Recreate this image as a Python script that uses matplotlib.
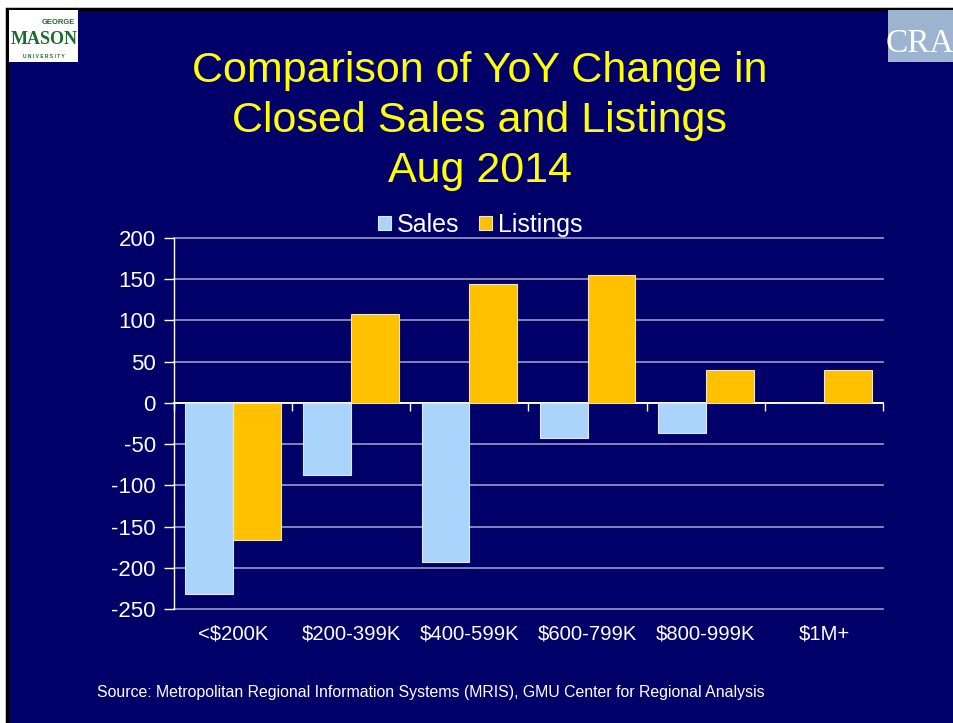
"""Comparison of YoY change in closed sales and listings, Aug 2014."""

import numpy as np
import matplotlib

matplotlib.use("Agg")
import matplotlib.pyplot as plt
from matplotlib.patches import Rectangle

categories = ["<$200K", "$200-399K", "$400-599K", "$600-799K", "$800-999K", "$1M+"]
sales = [-232, -87, -193, -42, -36, 0]
listings = [-166, 108, 144, 155, 40, 40]
y_ticks = [200, 150, 100, 50, 0, -50, -100, -150, -200, -250]

NAVY = "#000068"
SALES_COLOR = "#AAD4FC"
LISTINGS_COLOR = "#FFC000"
GRID_COLOR = "#9a9ac8"
FONT = ["Liberation Sans", "DejaVu Sans"]

plt.rcParams["font.family"] = FONT

W, H = 954, 723
fig = plt.figure(figsize=(W / 100, H / 100), dpi=100, facecolor="white")

# slide background with black border on top and left
slide = Rectangle((7 / W, -0.01), 1.0, 1 - 9 / H + 0.01, transform=fig.transFigure,
                  facecolor=NAVY, edgecolor="black", linewidth=2.5, zorder=-10)
fig.patches.append(slide)

# logo placeholders
fig.patches.append(Rectangle((9 / W, 1 - 62 / H), 69 / W, 52 / H, transform=fig.transFigure,
                             facecolor="white", edgecolor="none", zorder=-5))
fig.text(75 / W, 1 - 22 / H, "GEORGE", color="#1a6b2e", fontsize=5.5, fontweight="bold",
         ha="right", va="center")
fig.text(44 / W, 1 - 40 / H, "MASON", color="#1a6b2e", fontsize=13, fontweight="bold",
         ha="center", va="center", family=["Liberation Serif", "DejaVu Serif"])
fig.text(44 / W, 1 - 56 / H, "U N I V E R S I T Y", color="#1a6b2e", fontsize=3.5,
         fontweight="bold", ha="center", va="center")
fig.patches.append(Rectangle((888 / W, 1 - 62 / H), 70 / W, 52 / H, transform=fig.transFigure,
                             facecolor="#9db4d0", edgecolor="none", zorder=-5))
fig.text(886 / W, 1 - 44 / H, "CRA", color="white", fontsize=24, ha="left", va="center",
         family=["Liberation Serif", "DejaVu Serif"])

# title
for i, line in enumerate(["Comparison of YoY Change in", "Closed Sales and Listings", "Aug 2014"]):
    fig.text(0.503, 1 - (71 + 50 * i) / H, line, color="#FFFF00", fontsize=31,
             ha="center", va="center")

ax = fig.add_axes([174 / W, 1 - 609 / H, (883 - 174) / W, (609 - 238) / H])
ax.set_facecolor("none")

x = np.arange(len(categories))
width = 0.405
ax.bar(x - width / 2, sales, width, color=SALES_COLOR, edgecolor="#dfe8f7",
       linewidth=0.8, label="Sales", zorder=3)
ax.bar(x + width / 2, listings, width, color=LISTINGS_COLOR, edgecolor="#f0e6c8",
       linewidth=0.8, label="Listings", zorder=3)

ax.set_xlim(-0.5, len(categories) - 0.5)
ax.set_ylim(-250, 200)
ax.set_yticks(y_ticks)
ax.set_yticklabels([str(v) for v in y_ticks])
ax.tick_params(axis="y", colors="white", labelcolor="white", labelsize=16, length=7,
               width=1, pad=6)
for v in y_ticks:
    ax.axhline(v, color="white" if v == 0 else GRID_COLOR, linewidth=1.2, zorder=1,
               clip_on=False)

for side in ["top", "right"]:
    ax.spines[side].set_visible(False)
ax.spines["left"].set_color("white")
ax.spines["left"].set_linewidth(1)
ax.spines["bottom"].set_position(("data", 0))
ax.spines["bottom"].set_color("white")
ax.spines["bottom"].set_linewidth(1.2)

ax.set_xticks(np.arange(len(categories) + 1) - 0.5)
ax.set_xticklabels([])
ax.tick_params(axis="x", colors="white", length=6, width=1, direction="out")
for xi, name in zip(x, categories):
    ax.text(xi, -0.067, name, color="white", fontsize=14.6, ha="center", va="center",
            transform=ax.get_xaxis_transform())

leg = ax.legend(loc="lower center", bbox_to_anchor=(0.432, 0.977), ncol=2, frameon=False,
                fontsize=18, labelcolor="white", handlelength=0.5, handleheight=0.5,
                handletextpad=0.25, columnspacing=0.8, borderaxespad=0)

fig.text(97 / W, 1 - 693 / H, "Source: Metropolitan Regional Information Systems (MRIS), "
         "GMU Center for Regional Analysis", color="white", fontsize=11.4, ha="left",
         va="center")

fig.savefig("out.png", dpi=100, facecolor="white")
